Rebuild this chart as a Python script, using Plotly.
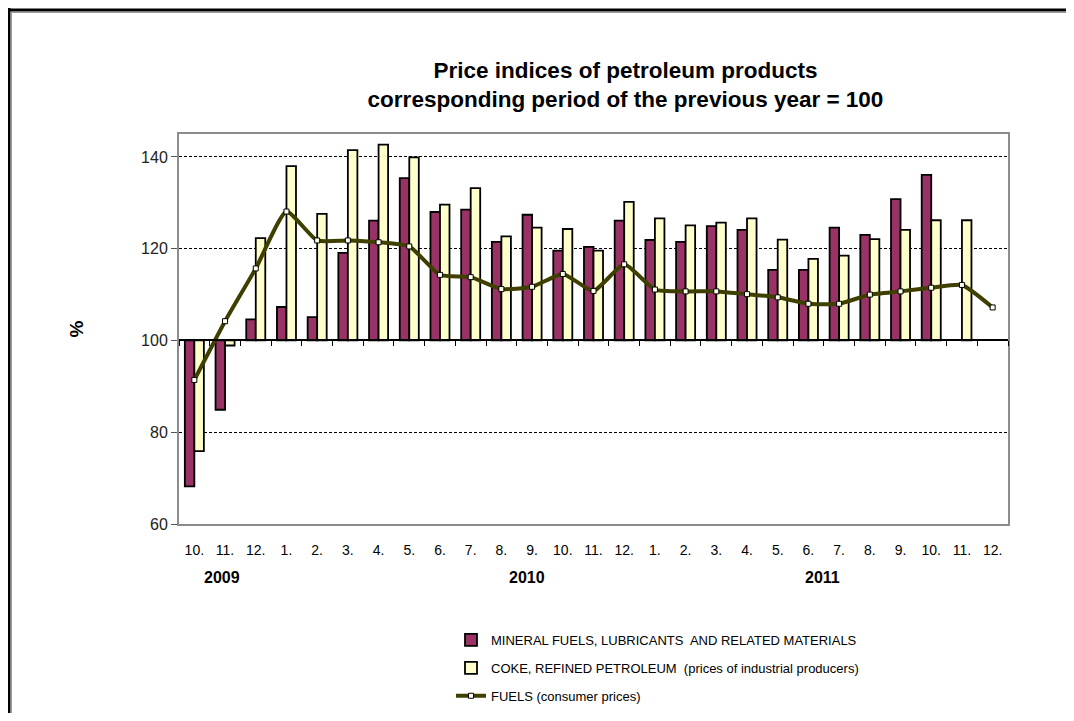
import plotly.graph_objects as go

months = ["10.", "11.", "12.", "1.", "2.", "3.", "4.", "5.", "6.", "7.", "8.", "9.",
          "10.", "11.", "12.", "1.", "2.", "3.", "4.", "5.", "6.", "7.", "8.", "9.",
          "10.", "11.", "12."]
years = [2009] * 3 + [2010] * 12 + [2011] * 12
categories = [f"{m} {y}" for m, y in zip(months, years)]

mineral = [68.2, 84.9, 104.6, 107.3, 105.1, 119.1, 126.1, 135.4, 128.0, 128.5, 121.5, 127.4,
           119.6, 120.4, 126.1, 121.9, 121.5, 124.9, 124.1, 115.4, 115.4, 124.6, 123.0, 130.8,
           136.1, None, None]
coke = [75.9, 98.9, 122.3, 138.0, 127.6, 141.5, 142.7, 139.9, 129.6, 133.2, 122.7, 124.6,
        124.3, 119.6, 130.2, 126.6, 125.1, 125.7, 126.6, 122.0, 117.8, 118.5, 122.1, 124.1,
        126.2, 126.2, None]
fuels = [91.4, 104.2, 115.7, 128.1, 121.8, 121.8, 121.4, 120.5, 114.3, 113.8, 111.2, 111.7,
         114.5, 110.8, 116.6, 111.1, 110.7, 110.7, 110.1, 109.4, 108.0, 108.0, 110.0, 110.7,
         111.5, 112.1, 107.2]

BASE = 100
year_labels = ["2009", "2010", "2011"]
yticks = [60, 80, 100, 120, 140]

OFF = 8  # page body margin
W, H = 1074 - 2 * OFF, 721 - 2 * OFF
L, T = 179 - OFF, 134 - OFF
R = W - (1008 - OFF)
B = H - (524 - OFF)
pw, ph = W - L - R, H - T - B


def px_x(p):
    return (p - OFF - L) / pw


def px_y(p):
    return (H - B - (p - OFF)) / ph


sans = "Liberation Sans, Arial"

fig = go.Figure()
fig.add_trace(go.Bar(
    x=categories, y=[None if v is None else v - BASE for v in mineral], base=BASE,
    name="MINERAL FUELS, LUBRICANTS  AND RELATED MATERIALS",
    marker=dict(color="#993366", line=dict(color="black", width=1.8)),
    legendgroup="a",
))
fig.add_trace(go.Bar(
    x=categories, y=[None if v is None else v - BASE for v in coke], base=BASE,
    name="COKE, REFINED PETROLEUM  (prices of industrial producers)",
    marker=dict(color="#FFFFCC", line=dict(color="black", width=1.8)),
    legendgroup="b",
))
fig.add_trace(go.Scatter(
    x=categories, y=fuels, mode="lines+markers",
    name="FUELS (consumer prices)",
    line=dict(color="#3F3F00", width=4, shape="spline", smoothing=0.5),
    marker=dict(symbol="square", size=5, color="#FFFFF0", line=dict(color="black", width=1)),
    legendgroup="c",
))
# helper trace for the category axis drawn at 100
fig.add_trace(go.Scatter(
    x=categories, y=[BASE] * len(categories), xaxis="x2", mode="markers",
    marker=dict(opacity=0), showlegend=False, hoverinfo="skip",
))

fig.update_layout(
    width=W, height=H,
    margin=dict(l=L, r=R, t=T, b=B, autoexpand=False),
    paper_bgcolor="white", plot_bgcolor="white",
    barmode="group", bargap=0.38, bargroupgap=0,
    font=dict(family=sans, color="black"),
    title=dict(
        text="<b>Price indices of petroleum products<br>corresponding period of the previous year = 100</b>",
        x=(625.5 - OFF) / W, xanchor="center", xref="container",
        y=1 - (78 - OFF) / H, yanchor="middle", yref="container",
        font=dict(family=sans, size=22.5, color="black"),
    ),
    xaxis=dict(
        type="category", categoryorder="array", categoryarray=categories,
        tickvals=categories, ticktext=months,
        range=[-0.5, len(categories) - 0.5],
        showline=True, linecolor="#8c8c8c", linewidth=2, mirror=True,
        ticks="outside", ticklen=12, tickcolor="rgba(0,0,0,0)",
        tickfont=dict(family=sans, size=14, color="black"),
        showgrid=False, zeroline=False,
    ),
    xaxis2=dict(
        type="category", categoryorder="array", categoryarray=categories,
        range=[-0.5, len(categories) - 0.5],
        overlaying="x", anchor="free", position=(BASE - 60) / 85,
        showline=True, linecolor="black", linewidth=1.5,
        ticks="outside", tickson="boundaries", ticklen=5, tickcolor="black", tickwidth=1,
        showticklabels=False, showgrid=False, zeroline=False,
    ),
    yaxis=dict(
        range=[60, 145], tickvals=yticks,
        showline=True, linecolor="#8c8c8c", linewidth=2, mirror=True,
        ticks="outside", ticklen=6, tickcolor="#555555",
        tickfont=dict(family=sans, size=16, color="#222222"),
        showgrid=True, gridcolor="black", gridwidth=1, griddash="3px,2px",
        zeroline=False,
        title=dict(text="<b>%</b>", font=dict(family=sans, size=19, color="black"),
                   standoff=52),
    ),
    legend=dict(
        x=px_x(451), y=px_y(625), xanchor="left", yanchor="top",
        orientation="v", traceorder="grouped", tracegroupgap=8,
        font=dict(family=sans, size=13, color="black"),
        bgcolor="rgba(0,0,0,0)",
    ),
    showlegend=True,
)

for lbl, xp in zip(year_labels, [222, 527, 822]):
    fig.add_annotation(text=f"<b>{lbl}</b>", x=px_x(xp), y=px_y(577), xref="paper", yref="paper",
                       xanchor="center", yanchor="middle",
                       showarrow=False, font=dict(family=sans, size=16, color="black"))

# outer frame
fig.add_shape(type="line", xref="paper", yref="paper", x0=px_x(9), x1=px_x(9), y0=px_y(8), y1=px_y(730),
              line=dict(color="black", width=3))
fig.add_shape(type="line", xref="paper", yref="paper", x0=px_x(11.5), x1=px_x(11.5), y0=px_y(11.5), y1=px_y(730),
              line=dict(color="#999999", width=1))
fig.add_shape(type="line", xref="paper", yref="paper", x0=px_x(7.5), x1=px_x(1080), y0=px_y(10), y1=px_y(10),
              line=dict(color="black", width=3))
fig.add_shape(type="line", xref="paper", yref="paper", x0=px_x(10.5), x1=px_x(1080), y0=px_y(12.5), y1=px_y(12.5),
              line=dict(color="#999999", width=1))

fig.write_html("out.html")
